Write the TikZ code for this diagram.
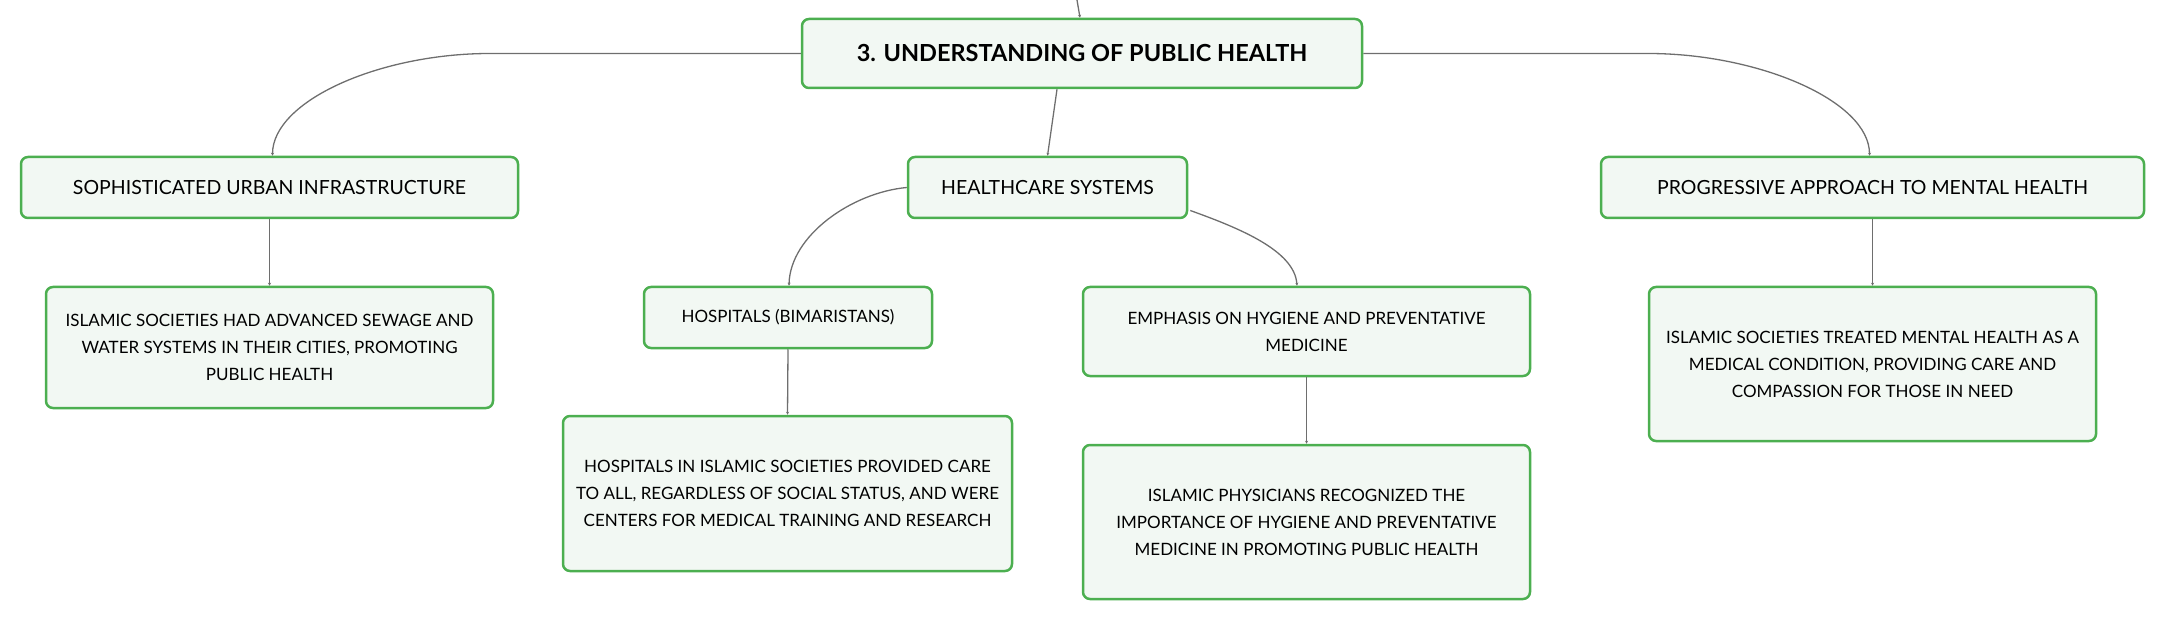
\documentclass[tikz,border=0pt]{standalone}
\usepackage{fontspec}
\setmainfont{Lato}
\usetikzlibrary{arrows.meta,calc}
\definecolor{boxgreen}{RGB}{76,175,80}
\definecolor{boxfill}{RGB}{242,248,243}
\definecolor{linegray}{RGB}{110,110,110}
\tikzset{
  mbox/.style={draw=boxgreen, line width=2.5pt, fill=boxfill, rounded corners=7pt,
    align=center, inner sep=0pt, font=\fontsize{17}{27}\selectfont, text=black},
  topbox/.style={mbox, font=\fontsize{19.5}{27}\selectfont},
  conn/.style={draw=linegray, line width=1.3pt, -{Stealth[length=3pt,width=3pt]}},
}
\begin{document}
\begin{tikzpicture}[x=1pt,y=-1pt]
\useasboundingbox (0,0) rectangle (2165,620);
% nodes
\node[mbox, minimum width=560pt, minimum height=69pt, font=\fontsize{23.5}{27}\selectfont\bfseries] (central) at (1082,53.5) {3. UNDERSTANDING OF PUBLIC HEALTH};
\node[topbox, minimum width=497pt, minimum height=61pt] (sui) at (269.5,187.5) {SOPHISTICATED URBAN INFRASTRUCTURE};
\node[topbox, minimum width=279pt, minimum height=61pt] (hc) at (1047.5,187.5) {HEALTHCARE SYSTEMS};
\node[topbox, minimum width=543pt, minimum height=61pt] (prog) at (1872.5,187.5) {PROGRESSIVE APPROACH TO MENTAL HEALTH};
\node[mbox, minimum width=447pt, minimum height=121pt] (sewage) at (269.5,347.5) {ISLAMIC SOCIETIES HAD ADVANCED SEWAGE AND\\WATER SYSTEMS IN THEIR CITIES, PROMOTING\\PUBLIC HEALTH};
\node[mbox, minimum width=288pt, minimum height=61pt] (hosp) at (788,317.5) {HOSPITALS (BIMARISTANS)};
\node[mbox, minimum width=449pt, minimum height=155pt] (hospd) at (787.5,493.5) {HOSPITALS IN ISLAMIC SOCIETIES PROVIDED CARE\\TO ALL, REGARDLESS OF SOCIAL STATUS, AND WERE\\CENTERS FOR MEDICAL TRAINING AND RESEARCH};
\node[mbox, minimum width=447pt, minimum height=89pt] (emph) at (1306.5,331.5) {EMPHASIS ON HYGIENE AND PREVENTATIVE\\MEDICINE};
\node[mbox, minimum width=447pt, minimum height=154pt] (phys) at (1306.5,522) {ISLAMIC PHYSICIANS RECOGNIZED THE\\IMPORTANCE OF HYGIENE AND PREVENTATIVE\\MEDICINE IN PROMOTING PUBLIC HEALTH};
\node[mbox, minimum width=447pt, minimum height=154pt] (mental) at (1872.5,364) {ISLAMIC SOCIETIES TREATED MENTAL HEALTH AS A\\MEDICAL CONDITION, PROVIDING CARE AND\\COMPASSION FOR THOSE IN NEED};
% connectors
\coordinate (parent) at (1077,0);
\draw[conn] (parent) -- ([xshift=-2pt]central.north);
\draw[conn] (central.west) -- ++(-311,0) .. controls ++(-110,0) and ($(sui.north)+(3,-55)$) .. ([xshift=3pt]sui.north);
\draw[conn] (central.east) -- ++(285,0) .. controls ++(110,0) and ($(prog.north)+(-3,-55)$) .. ([xshift=-3pt]prog.north);
\draw[conn] ([xshift=-25pt]central.south) -- (hc.north);
\draw[conn] (hc.west) .. controls ++(-55,5) and ($(hosp.north)+(2,-50)$) .. ([xshift=1pt]hosp.north);
\draw[conn] ($(hc.east)+(2,23)$) .. controls ++(50,18) and ($(emph.north)+(-12,-35)$) .. ([xshift=-9.5pt]emph.north);
\draw[conn] (sui.south) -- (sewage.north);
\draw[conn] (hosp.south) -- (hospd.north);
\draw[conn] (emph.south) -- (phys.north);
\draw[conn] (prog.south) -- (mental.north);
\end{tikzpicture}
\end{document}
